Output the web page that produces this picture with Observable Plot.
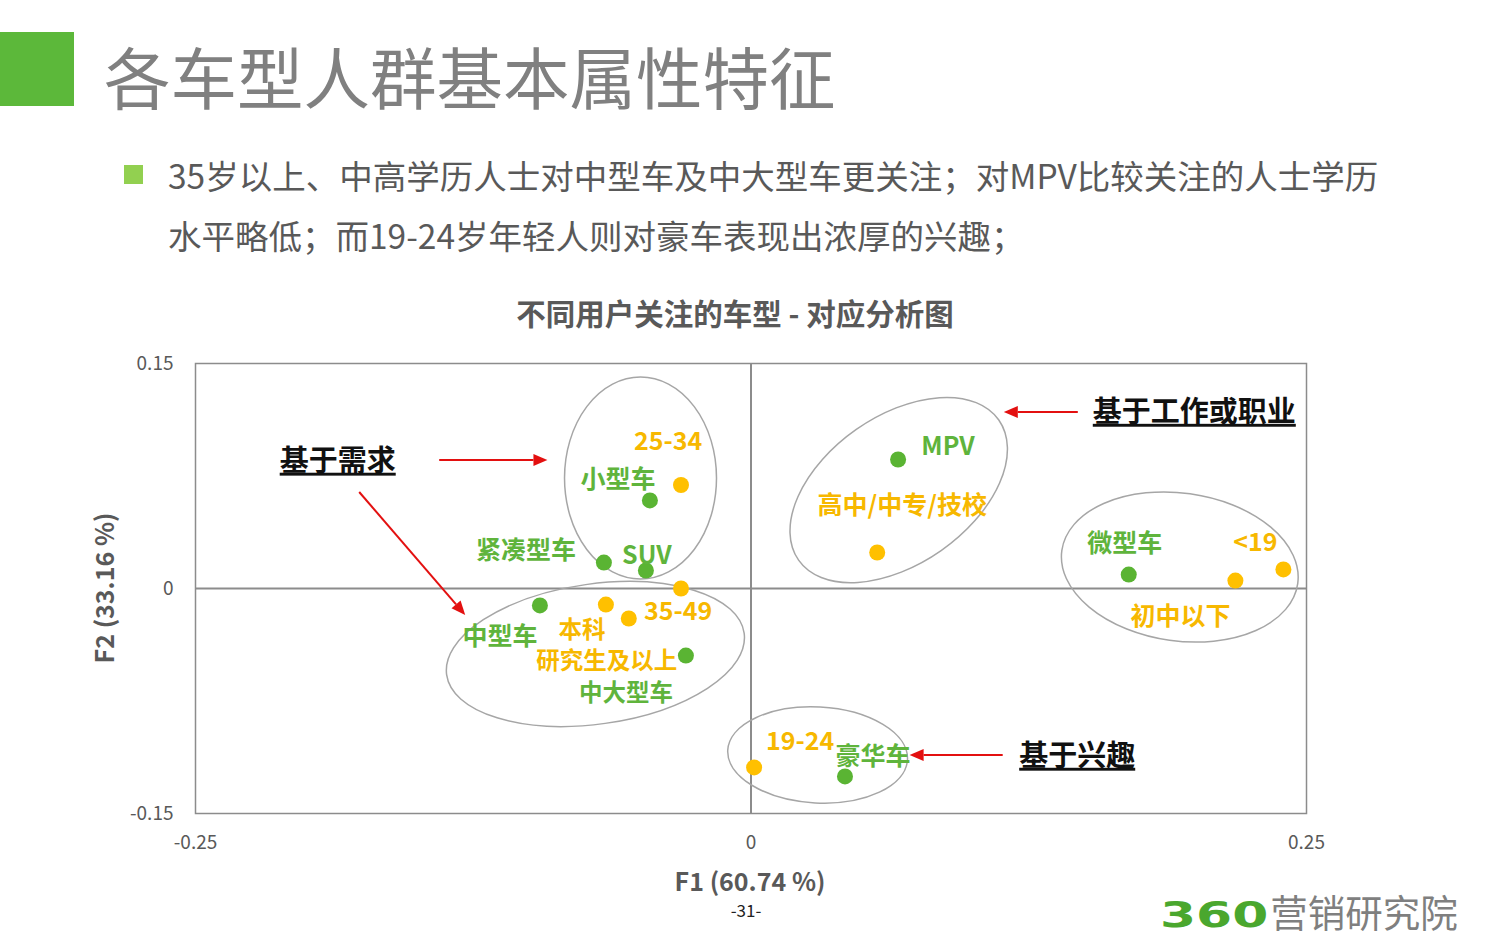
<!DOCTYPE html>
<html>
<head>
<meta charset="utf-8">
<script src="https://cdn.jsdelivr.net/npm/d3@7"></script>
<script src="https://cdn.jsdelivr.net/npm/@observablehq/plot@0.6"></script>
<style>
  html, body { margin: 0; padding: 0; background: #fff; }
  #page { position: relative; width: 1500px; height: 938px; overflow: hidden; font-family: "Noto Sans CJK SC", "Noto Sans", sans-serif; }
  .abs { position: absolute; white-space: nowrap; }
  #greenbox { left: 0; top: 32px; width: 74px; height: 74px; background: #5cb83a; }
  #title { left: 104px; top: 35px; font-size: 66.5px; line-height: 80px; color: #808080; font-weight: 400; }
  #bullet { left: 124px; top: 165px; width: 19px; height: 19px; background: #92d050; }
  #sub { left: 168px; top: 145px; font-size: 33.5px; line-height: 60px; color: #595959; }
  #ctitle { left: 0; width: 1470px; text-align: center; top: 292px; font-size: 29.5px; line-height: 40px; font-weight: 700; color: #595959; }
  #chart { left: 0; top: 340px; }
  #xlabel { left: 0; width: 1500px; text-align: center; top: 867px; font-size: 25px; line-height: 26px; font-weight: 700; color: #595959; }
  #ylabel { left: 103px; top: 588px; transform: translate(-50%, -50%) rotate(-90deg); font-size: 25px; line-height: 30px; font-weight: 700; color: #595959; }
  #pagenum { left: 0; width: 1492px; text-align: center; top: 901px; font-size: 17px; line-height: 18px; color: #222; }
  #logo { left: 1160px; top: 888px; line-height: 46px; }
  #logo .n { display: inline-block; font-family: "DejaVu Sans", sans-serif; font-weight: 700; font-size: 36px; color: #4aa72e; transform: scaleX(1.44); transform-origin: left center; margin-right: 35px; }
  #logo .t { font-size: 37.5px; color: #7f7f7f; }
</style>
</head>
<body>
<div id="page">
  <div class="abs" id="greenbox"></div>
  <div class="abs" id="title">各车型人群基本属性特征</div>
  <div class="abs" id="bullet"></div>
  <div class="abs" id="sub">35岁以上、中高学历人士对中型车及中大型车更关注；对MPV比较关注的人士学历<br>水平略低；而19-24岁年轻人则对豪车表现出浓厚的兴趣；</div>
  <div class="abs" id="ctitle">不同用户关注的车型 - 对应分析图</div>
  <div class="abs" id="chart"></div>
  <div class="abs" id="xlabel">F1 (60.74 %)</div>
  <div class="abs" id="ylabel">F2 (33.16 %)</div>
  <div class="abs" id="pagenum">-31-</div>
  <div class="abs" id="logo"><span class="n">360</span><span class="t">营销研究院</span></div>
</div>
<script>
// ---- Data ----
const carNames = ["MPV", "小型车", "紧凑型车", "SUV", "中型车", "中大型车", "豪华车", "微型车"];
const carF1 = [0.0662, -0.0455, -0.0662, -0.0473, -0.0950, -0.0293, 0.0423, 0.1700];
const carF2 = [0.0860, 0.0587, 0.0173, 0.0120, -0.0113, -0.0447, -0.1253, 0.0093];

const userNames = ["25-34", "高中/中专/技校", "<19", "初中以下", "35-49", "本科", "研究生及以上", "19-24"];
const userF1 = [-0.0315, 0.0568, 0.2396, 0.2180, -0.0315, -0.0653, -0.0550, 0.0014];
const userF2 = [0.0690, 0.0240, 0.0127, 0.0053, 0.0000, -0.0107, -0.0200, -0.1193];

const xTicks = [-0.25, 0, 0.25];
const yTicks = [-0.15, 0, 0.15];

// group ellipses (centre, semi-axes in data units, tilt in degrees)
const groupCx = [-0.0495, -0.0698, 0.0667, 0.1932, 0.0302];
const groupCy = [0.0733, -0.0440, 0.0653, 0.0140, -0.1113];
const groupRx = [0.0342, 0.0676, 0.0550, 0.0536, 0.0405];
const groupRy = [0.0673, 0.0467, 0.0493, 0.0493, 0.0320];
const groupTilt = [0, -8, -35, 8, 3];

// annotations
const noteTexts = ["基于需求", "基于工作或职业", "基于兴趣"];
const noteF1 = [-0.186, 0.1995, 0.1468];
const noteF2 = [0.0847, 0.1173, -0.1120];

const arrowX1 = [-0.1401, -0.1761, 0.1473, 0.1135];
const arrowY1 = [0.0853, 0.0640, 0.1173, -0.1113];
const arrowX2 = [-0.0914, -0.1284, 0.1140, 0.0716];
const arrowY2 = [0.0853, -0.0180, 0.1173, -0.1113];

// label offsets (px) relative to each point
const labelOffset = {
  "MPV": [50, -13], "小型车": [-32, -20], "紧凑型车": [-78, -12], "SUV": [1, -15],
  "中型车": [-40, 32], "中大型车": [-60, 38], "豪华车": [28, -19], "微型车": [-4, -31],
  "25-34": [-13, -43], "高中/中专/技校": [25, -47], "<19": [-28, -26], "初中以下": [-55, 36],
  "35-49": [-3, 23], "本科": [-24, 26], "研究生及以上": [-22, 43], "19-24": [46, -25]
};
const smallLabels = ["本科", "研究生及以上", "中大型车"];

// ---- Tables ----
const cars = carNames.map((n, i) => ({name: n, x: carF1[i], y: carF2[i], kind: "car"}));
const users = userNames.map((n, i) => ({name: n, x: userF1[i], y: userF2[i], kind: "user"}));
const groups = groupCx.map((c, i) => ({cx: c, cy: groupCy[i], rx: groupRx[i], ry: groupRy[i], tilt: groupTilt[i]}));
const notes = noteTexts.map((t, i) => ({text: t, x: noteF1[i], y: noteF2[i]}));
const arrows = arrowX1.map((x, i) => ({x1: x, y1: arrowY1[i], x2: arrowX2[i], y2: arrowY2[i]}));

const GREEN_DOT = "#5ab433", GREEN_TXT = "#5fb43c";
const ORANGE_DOT = "#ffc000", ORANGE_TXT = "#f7b800";
const RED = "#e31010";

function ellipseMark(index, scales) {
  const g = d3.create("svg:g");
  for (const e of groups) {
    const px = scales.x(e.cx), py = scales.y(e.cy);
    const rxp = Math.abs(scales.x(e.cx + e.rx) - px);
    const ryp = Math.abs(scales.y(e.cy + e.ry) - py);
    g.append("ellipse")
      .attr("cx", px).attr("cy", py).attr("rx", rxp).attr("ry", ryp)
      .attr("transform", `rotate(${e.tilt} ${px} ${py})`)
      .attr("fill", "none").attr("stroke", "#a6a6a6").attr("stroke-width", 1.5);
  }
  return g.node();
}

function arrowMark(index, scales) {
  const g = d3.create("svg:g");
  const L = 14, W = 6;
  for (const a of arrows) {
    const x1 = scales.x(a.x1), y1 = scales.y(a.y1), x2 = scales.x(a.x2), y2 = scales.y(a.y2);
    const ang = Math.atan2(y2 - y1, x2 - x1);
    const bx = x2 - L * Math.cos(ang), by = y2 - L * Math.sin(ang);
    g.append("line").attr("x1", x1).attr("y1", y1).attr("x2", bx).attr("y2", by)
      .attr("stroke", RED).attr("stroke-width", 2);
    const px = -Math.sin(ang) * W, py = Math.cos(ang) * W;
    g.append("path")
      .attr("d", `M${x2},${y2}L${bx + px},${by + py}L${bx - px},${by - py}Z`)
      .attr("fill", RED);
  }
  return g.node();
}

const fmt = d => d === 0 ? "0" : String(d);

const labelMarks = [...cars, ...users].map(p => Plot.text([p], {
  x: "x", y: "y", text: "name",
  dx: labelOffset[p.name][0], dy: labelOffset[p.name][1],
  fill: p.kind === "car" ? GREEN_TXT : ORANGE_TXT,
  fontSize: smallLabels.includes(p.name) ? 23.5 : 25, fontWeight: 700
}));

const plot = Plot.plot({
  width: 1500,
  height: 560,
  marginLeft: 195,
  marginRight: 194,
  marginTop: 23,
  marginBottom: 87,
  style: {fontFamily: "'Noto Sans CJK SC', 'Noto Sans', sans-serif", fontSize: "19px", color: "#595959", background: "transparent"},
  x: {domain: [-0.25, 0.25], ticks: xTicks, tickFormat: fmt, tickSize: 0, tickPadding: 22, label: null},
  y: {domain: [-0.15, 0.15], ticks: yTicks, tickFormat: fmt, tickSize: 0, tickPadding: 22, label: null},
  marks: [
    Plot.frame({stroke: "#8c8c8c", strokeWidth: 1.5}),
    Plot.ruleX([0], {stroke: "#8c8c8c", strokeWidth: 2}),
    Plot.ruleY([0], {stroke: "#8c8c8c", strokeWidth: 2}),
    ellipseMark,
    Plot.dot(cars, {x: "x", y: "y", r: 8, fill: GREEN_DOT}),
    Plot.dot(users, {x: "x", y: "y", r: 8, fill: ORANGE_DOT}),
    ...labelMarks,
    arrowMark,
    Plot.text(notes, {x: "x", y: "y", text: "text", fill: "#111", fontSize: 29, fontWeight: 700})
  ]
});

d3.select(plot).selectAll("text").each(function() {
  if (noteTexts.includes(this.textContent)) {
    this.style.textDecoration = "underline";
  }
});

document.getElementById("chart").appendChild(plot);
</script>
</body>
</html>
